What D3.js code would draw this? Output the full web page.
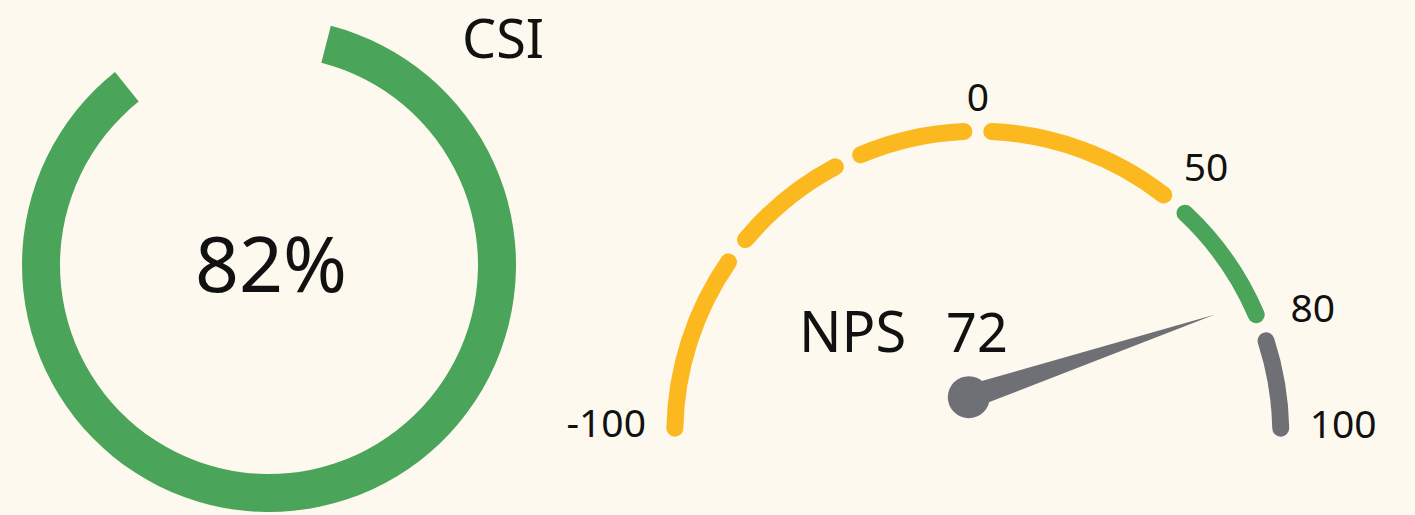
<!DOCTYPE html>
<html>
<head>
<meta charset="utf-8">
<script src="https://cdn.jsdelivr.net/npm/d3@7"></script>
<style>
  html, body { margin: 0; padding: 0; background: #fdf9ee; }
  svg { display: block; }
  text { font-family: "Noto Sans", "Open Sans", sans-serif; fill: #111; }
</style>
</head>
<body>
<script>
var width = 1415,
    height = 515;

// CSI ring
var csiLabel = "CSI";
var csiValue = 82;

// NPS gauge
var npsLabel = "NPS";
var npsValue = 72;
var npsBreaks = [-100, -60, -30, 0, 50, 80, 100];
var npsBreakAngles = [-90, -52.7, -25.4, 0, 40.5, 69.4, 90];
var npsColors = ["#fbb91f", "#fbb91f", "#fbb91f", "#fbb91f", "#4aa459", "#6f7075"];
var npsTicks = [-100, 0, 50, 80, 100];

var rad = Math.PI / 180;

var svg = d3.select("body").append("svg")
    .attr("width", width)
    .attr("height", height);

svg.append("rect")
    .attr("width", width)
    .attr("height", height)
    .attr("fill", "#fdf9ee");

// ---- ring ----
var ring = svg.append("g").attr("transform", "translate(269,265)");

var ringScale = d3.scaleLinear()
    .domain([0, 100])
    .range([14.5 * rad, 388.8 * rad]);

var ringArc = d3.arc()
    .innerRadius(209)
    .outerRadius(247);

ring.append("path")
    .attr("d", ringArc({ startAngle: ringScale(0), endAngle: ringScale(csiValue) }))
    .attr("fill", "#4aa459");

ring.append("text")
    .attr("x", 2)
    .attr("y", 27)
    .attr("text-anchor", "middle")
    .style("font-size", "77px")
    .text(csiValue + "%");

svg.append("text")
    .attr("x", 462)
    .attr("y", 58)
    .style("font-size", "54px")
    .text(csiLabel);

// ---- gauge ----
var cx = 977.8,
    cy = 434.2,
    r = 303;

var angle = d3.scaleLinear()
    .domain(npsBreaks)
    .range(npsBreakAngles.map(function(a) { return a * rad; }));

var gauge = svg.append("g").attr("transform", "translate(" + cx + "," + cy + ")");

var innerPad = 14 / r,
    endPad = 6 / r;

var segments = d3.pairs(npsBreaks).map(function(p, i) {
  return { from: p[0], to: p[1], color: npsColors[i] };
});

gauge.selectAll("path.seg")
  .data(segments)
  .enter().append("path")
    .attr("class", "seg")
    .attr("fill", "none")
    .attr("stroke", function(d) { return d.color; })
    .attr("stroke-width", 17)
    .attr("stroke-linecap", "round")
    .attr("d", function(d) {
      var a0 = angle(d.from) + (d.from === npsBreaks[0] ? endPad : innerPad),
          a1 = angle(d.to) - (d.to === npsBreaks[npsBreaks.length - 1] ? endPad : innerPad);
      var p = d3.path();
      p.arc(0, 0, r, a0 - Math.PI / 2, a1 - Math.PI / 2, false);
      return p.toString();
    });

// tick labels, centred just outside the arc
var labelAngle = function(d) {
  return Math.max(-88.4 * rad, Math.min(88.4 * rad, angle(d)));
};

gauge.selectAll("text.tick")
  .data(npsTicks)
  .enter().append("text")
    .attr("class", "tick")
    .style("font-size", "39px")
    .attr("text-anchor", "middle")
    .attr("dy", "0.35em")
    .text(function(d) { return d; })
    .each(function(d) {
      var w = this.getComputedTextLength(),
          a = labelAngle(d),
          R = 337 + w / 2 * Math.abs(Math.sin(a)) - (Math.abs(d) === 100 ? 5 : 0);
      d3.select(this)
          .attr("x", R * Math.sin(a))
          .attr("y", -R * Math.cos(a));
    });

// needle
var hub = { x: -9, y: -37 },
    tipLen = 265,
    a = angle(npsValue) + 1.5 * rad,
    tip = { x: tipLen * Math.sin(a), y: -tipLen * Math.cos(a) };

var dx = tip.x - hub.x,
    dy = tip.y - hub.y,
    len = Math.sqrt(dx * dx + dy * dy),
    nx = -dy / len * 12,
    ny = dx / len * 12;

gauge.append("path")
    .attr("fill", "#6f7075")
    .attr("d", "M" + (hub.x + nx) + "," + (hub.y + ny) +
               "L" + tip.x + "," + tip.y +
               "L" + (hub.x - nx) + "," + (hub.y - ny) + "Z");

gauge.append("circle")
    .attr("cx", hub.x)
    .attr("cy", hub.y)
    .attr("r", 21)
    .attr("fill", "#6f7075");

svg.append("text")
    .attr("x", 799)
    .attr("y", 352)
    .style("font-size", "56px")
    .text(npsLabel);

svg.append("text")
    .attr("x", 946)
    .attr("y", 352)
    .style("font-size", "54px")
    .text(npsValue);
</script>
</body>
</html>
